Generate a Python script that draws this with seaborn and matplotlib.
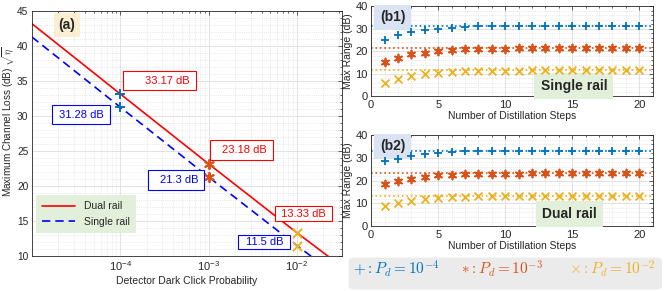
import numpy as np
import pandas as pd
import matplotlib
matplotlib.use("Agg")
import matplotlib.pyplot as plt
import seaborn as sns
from matplotlib.patches import FancyBboxPatch, Rectangle
from matplotlib.ticker import MultipleLocator, LogLocator, NullFormatter

sns.set_style("white")
plt.rcParams['font.family'] = ['Liberation Sans', 'DejaVu Sans']
plt.rcParams['mathtext.fontset'] = 'cm'

# panel (a) data: max channel loss vs dark click probability
pd_curve = [1e-5, 1e-4, 1e-3, 1e-2, 3e-2]
dual_curve = [43.2, 33.17, 23.18, 13.33, 8.8]
single_curve = [41.3, 31.28, 21.3, 11.5, 7.0]

pd_marks = [1e-4, 1e-3, 1e-2]
dual_marks = [33.17, 23.18, 13.33]
single_marks = [31.28, 21.3, 11.5]

# panels (b1)/(b2) data: max range vs number of distillation steps
steps = list(range(1, 21))
single_p4 = [24.9, 27.1, 28.3, 29.3, 29.8, 30.3, 30.7, 31.0, 31.1, 31.2,
             31.2, 31.2, 31.3, 31.3, 31.3, 31.3, 31.3, 31.3, 31.3, 31.3]
single_p3 = [15.1, 17.1, 18.5, 19.3, 20.0, 20.4, 20.7, 20.9, 21.0, 21.1,
             21.2, 21.2, 21.2, 21.3, 21.3, 21.3, 21.3, 21.3, 21.3, 21.3]
single_p2 = [6.0, 7.6, 8.7, 9.6, 10.2, 10.7, 11.0, 11.1, 11.2, 11.3,
             11.3, 11.4, 11.4, 11.4, 11.5, 11.5, 11.5, 11.5, 11.5, 11.5]
dual_p4 = [28.4, 29.6, 30.8, 31.6, 32.1, 32.5, 32.8, 33.0, 33.0, 33.1,
           33.1, 33.1, 33.1, 33.2, 33.2, 33.2, 33.2, 33.2, 33.2, 33.2]
dual_p3 = [18.5, 19.8, 20.8, 21.7, 22.3, 22.6, 22.9, 23.0, 23.1, 23.1,
           23.1, 23.2, 23.2, 23.2, 23.2, 23.2, 23.2, 23.2, 23.2, 23.2]
dual_p2 = [9.0, 10.2, 11.0, 11.7, 12.3, 12.7, 13.0, 13.1, 13.2, 13.2,
           13.3, 13.3, 13.3, 13.3, 13.3, 13.3, 13.3, 13.3, 13.3, 13.3]

c_blue, c_orange, c_yellow = '#0072BD', '#D95319', '#EDB120'
mark_colors = [c_blue, c_orange, c_yellow]
asterisk = (6, 2, 0)
mark_styles = ['+', asterisk, 'x']
axis_gray = '#262626'

fig = plt.figure(figsize=(6.64, 2.91), dpi=100)
ax_a = fig.add_axes([0.048, 0.120, 0.467, 0.842])
ax_b1 = fig.add_axes([0.559, 0.670, 0.424, 0.309])
ax_b2 = fig.add_axes([0.559, 0.223, 0.424, 0.313])


def matlab_axes(ax):
    for s in ax.spines.values():
        s.set_color(axis_gray)
        s.set_linewidth(0.6)
    ax.tick_params(which='both', direction='in', top=True, right=True,
                   colors=axis_gray, labelsize=8, width=0.5, pad=2.5)
    ax.tick_params(which='major', length=3)
    ax.tick_params(which='minor', length=1.5)
    ax.grid(True, which='major', color='#dcdcdc', lw=0.6)
    ax.grid(True, which='minor', color='#d8d8d8', lw=0.5, ls=':')
    ax.set_axisbelow(True)


# ---- panel (a)
df_a = pd.DataFrame({'pd': pd_curve * 2,
                     'loss': dual_curve + single_curve,
                     'type': ['Dual rail'] * 5 + ['Single rail'] * 5})
sns.lineplot(data=df_a, x='pd', y='loss', hue='type', style='type',
             palette={'Dual rail': '#ff0000', 'Single rail': '#0000ff'},
             dashes={'Dual rail': '', 'Single rail': (5, 3)},
             lw=1.2, ax=ax_a)
for p, d, s, c, m in zip(pd_marks, dual_marks, single_marks, mark_colors, mark_styles):
    sns.scatterplot(x=[p, p], y=[d, s], marker=m, color=c, s=45,
                    linewidth=1.4, ax=ax_a, zorder=5, legend=False)
ax_a.set_xscale('log')
ax_a.set_xlim(1e-5, 10 ** -1.49)
ax_a.set_ylim(10, 45)
ax_a.yaxis.set_major_locator(MultipleLocator(5))
ax_a.yaxis.set_minor_locator(MultipleLocator(1))
ax_a.xaxis.set_minor_locator(LogLocator(base=10, subs=np.arange(2, 10), numticks=20))
ax_a.xaxis.set_minor_formatter(NullFormatter())
ax_a.set_xticks([1e-4, 1e-3, 1e-2])
matlab_axes(ax_a)
ax_a.tick_params(axis='y', labelsize=7.3, pad=2.5)
ax_a.set_xlabel('Detector Dark Click Probability', fontsize=7.5, color=axis_gray, labelpad=2)
ax_a.set_ylabel(r'Maximum Channel Loss (dB) $\sqrt{\eta}$', fontsize=7.2, color=axis_gray)
ax_a.yaxis.set_label_coords(-0.049, 0.547)

leg = ax_a.legend(loc='upper left', bbox_to_anchor=(0.013, 0.249), borderaxespad=0,
                  fontsize=7.5, frameon=True, fancybox=False, handlelength=3.2,
                  borderpad=0.6, labelspacing=0.5)
leg.get_frame().set_facecolor('#e2efda')
leg.get_frame().set_edgecolor('none')
leg.get_frame().set_alpha(1)

ax_a.text(0.113, 0.943, '(a)', transform=ax_a.transAxes, fontsize=10, fontweight='bold',
          ha='center', va='center',
          bbox=dict(boxstyle='square,pad=0.35', fc='#fcefd1', ec='none'))

# value boxes (x0, x1, y0, y1 in axes fractions), text right aligned like MATLAB textboxes
boxes = [(0.294, 0.529, 0.678, 0.755, '33.17 dB', '#ff0000'),
         (0.065, 0.252, 0.539, 0.616, '31.28 dB', '#0000ff'),
         (0.574, 0.777, 0.392, 0.473, '23.18 dB', '#ff0000'),
         (0.374, 0.555, 0.269, 0.351, '21.3 dB', '#0000ff'),
         (0.784, 0.968, 0.143, 0.204, '13.33 dB', '#ff0000'),
         (0.665, 0.832, 0.027, 0.086, '11.5 dB', '#0000ff')]
for x0, x1, y0, y1, t, c in boxes:
    ax_a.add_patch(Rectangle((x0, y0), x1 - x0, y1 - y0, transform=ax_a.transAxes,
                             fc='white', ec=c, lw=0.8, zorder=6))
    ax_a.text(x1 - 0.019, (y0 + y1) / 2, t, transform=ax_a.transAxes, fontsize=8,
              color=c, ha='right', va='center', zorder=7)

# ---- panels (b1), (b2)
panels = [(ax_b1, [single_p4, single_p3, single_p2], single_marks, '(b1)', 'Single rail', 0.72, 0.11),
          (ax_b2, [dual_p4, dual_p3, dual_p2], dual_marks, '(b2)', 'Dual rail', 0.704, 0.132)]
for ax, series, limits, tag, name, nx, ny in panels:
    for vals, lim, c, m in zip(series, limits, mark_colors, mark_styles):
        ax.axhline(lim, color=c, ls=':', lw=1.2, zorder=2)
        sns.scatterplot(x=steps, y=vals, marker=m, color=c, s=32,
                        linewidth=1.3, ax=ax, zorder=5, legend=False)
    ax.set_xlim(0, 21)
    ax.set_ylim(0, 40)
    ax.xaxis.set_major_locator(MultipleLocator(5))
    ax.xaxis.set_minor_locator(MultipleLocator(1))
    ax.yaxis.set_major_locator(MultipleLocator(10))
    ax.yaxis.set_minor_locator(MultipleLocator(2))
    matlab_axes(ax)
    ax.set_xlabel('Number of Distillation Steps', fontsize=7.5, color=axis_gray, labelpad=1)
    ax.set_ylabel('Max Range (dB)', fontsize=7.5, color=axis_gray, labelpad=2)
    ax.text(0.076, 0.875, tag, transform=ax.transAxes, fontsize=10, fontweight='bold',
            ha='center', va='center',
            bbox=dict(boxstyle='square,pad=0.4', fc='#dae3f3', ec='none'))
    ax.text(nx, ny, name, transform=ax.transAxes, fontsize=10, fontweight='bold',
            ha='center', va='center',
            bbox=dict(boxstyle='square,pad=0.45', fc='#e2efda', ec='none'))

# ---- marker key at the bottom right
fig.patches.append(FancyBboxPatch((0.528, 0.008), 0.466, 0.104,
                                  boxstyle='round,pad=0.003,rounding_size=0.012',
                                  transform=fig.transFigure, fc='#ebebeb', ec='none'))
keys = [(0.596, r'$+:P_d=10^{-4}$', c_blue),
        (0.756, r'$\ast:P_d=10^{-3}$', c_orange),
        (0.922, r'$\times:P_d=10^{-2}$', c_yellow)]
for x, t, c in keys:
    fig.text(x, 0.077, t, color=c, fontsize=11, ha='center', va='center')

fig.savefig('out.png', dpi=100)
